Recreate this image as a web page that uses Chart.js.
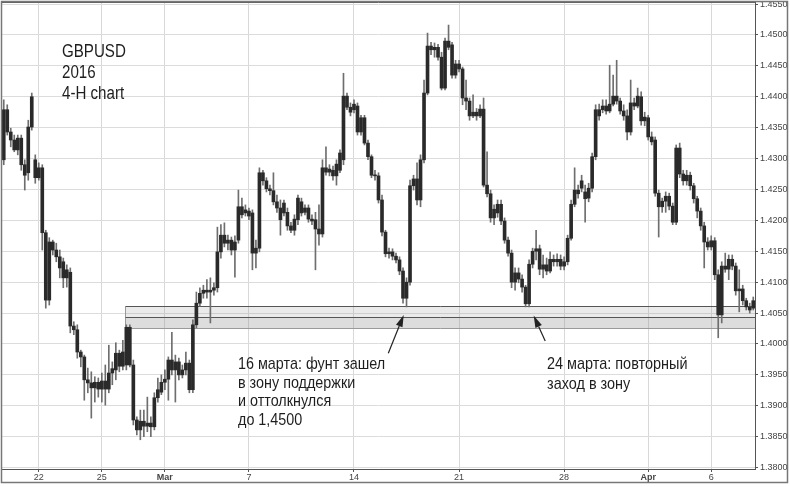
<!DOCTYPE html>
<html>
<head>
<meta charset="utf-8">
<script src="https://cdn.jsdelivr.net/npm/chart.js@4.4.1/dist/chart.umd.min.js"></script>
<style>
  html, body { margin: 0; padding: 0; background: #fff; }
  canvas { display: block; }
</style>
</head>
<body>
<canvas id="myChart" width="790" height="487"></canvas>
<script>
// GBPUSD 4-H bars, 18 Feb - 8 Apr 2016
const openP = [
  1.4298, 1.4379, 1.4343, 1.4330, 1.4314, 1.4333, 1.4290, 1.4277, 1.4351, 1.4298,
  1.4269, 1.4285, 1.4180, 1.4071, 1.4165, 1.4152, 1.4141, 1.4133, 1.4107, 1.4116,
  1.4029, 1.4023, 1.3987, 1.3979, 1.3942, 1.3937, 1.3929, 1.3938, 1.3927, 1.3940,
  1.3927, 1.3953, 1.3958, 1.3985, 1.3964, 1.3966, 1.4027, 1.3966, 1.3877, 1.3861,
  1.3875, 1.3867, 1.3872, 1.3866, 1.3913, 1.3922, 1.3938, 1.3943, 1.3974, 1.3958,
  1.3971, 1.3950, 1.3958, 1.3969, 1.3926, 1.4031, 1.4066, 1.4082, 1.4087, 1.4084,
  1.4087, 1.4091, 1.4149, 1.4176, 1.4163, 1.4168, 1.4152, 1.4168, 1.4222, 1.4212,
  1.4215, 1.4212, 1.4147, 1.4155, 1.4277, 1.4264, 1.4251, 1.4248, 1.4230, 1.4220,
  1.4212, 1.4213, 1.4191, 1.4184, 1.4201, 1.4230, 1.4213, 1.4220, 1.4202, 1.4201,
  1.4186, 1.4178, 1.4285, 1.4278, 1.4281, 1.4272, 1.4281, 1.4298, 1.4401, 1.4383,
  1.4379, 1.4385, 1.4343, 1.4366, 1.4325, 1.4303, 1.4273, 1.4272, 1.4233, 1.4181,
  1.4146, 1.4149, 1.4142, 1.4136, 1.4118, 1.4074, 1.4100, 1.4256, 1.4267, 1.4233,
  1.4298, 1.4406, 1.4482, 1.4476, 1.4480, 1.4464, 1.4414, 1.4490, 1.4484, 1.4435,
  1.4453, 1.4445, 1.4398, 1.4393, 1.4369, 1.4375, 1.4369, 1.4380, 1.4257, 1.4243,
  1.4204, 1.4212, 1.4226, 1.4199, 1.4168, 1.4147, 1.4100, 1.4115, 1.4105, 1.4092,
  1.4065, 1.4129, 1.4150, 1.4154, 1.4121, 1.4128, 1.4118, 1.4137, 1.4133, 1.4137,
  1.4126, 1.4133, 1.4171, 1.4226, 1.4249, 1.4252, 1.4246, 1.4236, 1.4252, 1.4303,
  1.4379, 1.4379, 1.4385, 1.4377, 1.4388, 1.4401, 1.4393, 1.4377, 1.4369, 1.4343,
  1.4390, 1.4385, 1.4400, 1.4361, 1.4366, 1.4335, 1.4330, 1.4244, 1.4222, 1.4231,
  1.4239, 1.4223, 1.4197, 1.4317, 1.4275, 1.4264, 1.4273, 1.4256, 1.4235, 1.4215,
  1.4191, 1.4165, 1.4157, 1.4167, 1.4112, 1.4047, 1.4126, 1.4121, 1.4137, 1.4126,
  1.4086, 1.4089, 1.4070, 1.4060, 1.4058
];
const highP = [
  1.4395, 1.4387, 1.4349, 1.4338, 1.4338, 1.4338, 1.4298, 1.4362, 1.4406, 1.4306,
  1.4293, 1.4290, 1.4184, 1.4172, 1.4168, 1.4163, 1.4152, 1.4139, 1.4128, 1.4123,
  1.4036, 1.4031, 1.3990, 1.3982, 1.3961, 1.3955, 1.3947, 1.3945, 1.3953, 1.3966,
  1.3998, 1.3971, 1.4002, 1.3990, 1.4006, 1.4031, 1.4031, 1.3974, 1.3882, 1.3893,
  1.3893, 1.3914, 1.3882, 1.3921, 1.3945, 1.3950, 1.3958, 1.3979, 1.4019, 1.3982,
  1.3977, 1.3966, 1.3987, 1.3974, 1.4039, 1.4084, 1.4091, 1.4095, 1.4104, 1.4107,
  1.4099, 1.4189, 1.4193, 1.4196, 1.4176, 1.4173, 1.4175, 1.4249, 1.4236, 1.4225,
  1.4220, 1.4217, 1.4168, 1.4285, 1.4281, 1.4269, 1.4257, 1.4277, 1.4241, 1.4233,
  1.4233, 1.4220, 1.4197, 1.4209, 1.4241, 1.4236, 1.4225, 1.4225, 1.4209, 1.4213,
  1.4225, 1.4298, 1.4319, 1.4290, 1.4288, 1.4298, 1.4314, 1.4438, 1.4406, 1.4390,
  1.4395, 1.4390, 1.4370, 1.4370, 1.4330, 1.4306, 1.4281, 1.4277, 1.4241, 1.4184,
  1.4155, 1.4154, 1.4147, 1.4141, 1.4123, 1.4107, 1.4265, 1.4273, 1.4293, 1.4306,
  1.4427, 1.4503, 1.4488, 1.4487, 1.4485, 1.4472, 1.4495, 1.4516, 1.4488, 1.4459,
  1.4459, 1.4448, 1.4427, 1.4398, 1.4403, 1.4381, 1.4387, 1.4398, 1.4311, 1.4249,
  1.4225, 1.4233, 1.4233, 1.4204, 1.4173, 1.4152, 1.4123, 1.4123, 1.4112, 1.4095,
  1.4136, 1.4155, 1.4184, 1.4160, 1.4144, 1.4139, 1.4149, 1.4144, 1.4146, 1.4144,
  1.4141, 1.4176, 1.4233, 1.4285, 1.4257, 1.4273, 1.4257, 1.4260, 1.4309, 1.4387,
  1.4388, 1.4395, 1.4395, 1.4451, 1.4435, 1.4459, 1.4398, 1.4387, 1.4379, 1.4427,
  1.4398, 1.4414, 1.4408, 1.4375, 1.4370, 1.4343, 1.4335, 1.4249, 1.4236, 1.4246,
  1.4244, 1.4228, 1.4322, 1.4325, 1.4281, 1.4281, 1.4278, 1.4260, 1.4239, 1.4220,
  1.4197, 1.4172, 1.4175, 1.4172, 1.4120, 1.4133, 1.4147, 1.4144, 1.4144, 1.4131,
  1.4120, 1.4095, 1.4074, 1.4066, 1.4076
];
const lowP = [
  1.4290, 1.4338, 1.4319, 1.4311, 1.4306, 1.4281, 1.4249, 1.4265, 1.4346, 1.4260,
  1.4265, 1.4152, 1.4058, 1.4063, 1.4144, 1.4133, 1.4107, 1.4091, 1.4092, 1.4018,
  1.4015, 1.3977, 1.3963, 1.3909, 1.3921, 1.3880, 1.3906, 1.3914, 1.3906, 1.3901,
  1.3921, 1.3934, 1.3942, 1.3955, 1.3958, 1.3958, 1.3963, 1.3869, 1.3853, 1.3845,
  1.3850, 1.3858, 1.3850, 1.3861, 1.3906, 1.3918, 1.3926, 1.3909, 1.3950, 1.3906,
  1.3942, 1.3945, 1.3950, 1.3921, 1.3921, 1.4026, 1.4061, 1.4074, 1.4074, 1.4034,
  1.4079, 1.4084, 1.4139, 1.4157, 1.4152, 1.4144, 1.4108, 1.4163, 1.4204, 1.4207,
  1.4201, 1.4120, 1.4123, 1.4149, 1.4257, 1.4246, 1.4241, 1.4225, 1.4213, 1.4176,
  1.4207, 1.4184, 1.4180, 1.4176, 1.4193, 1.4207, 1.4209, 1.4197, 1.4193, 1.4120,
  1.4160, 1.4173, 1.4273, 1.4272, 1.4265, 1.4257, 1.4277, 1.4290, 1.4379, 1.4369,
  1.4374, 1.4338, 1.4338, 1.4322, 1.4298, 1.4269, 1.4265, 1.4228, 1.4175, 1.4141,
  1.4139, 1.4136, 1.4131, 1.4112, 1.4066, 1.4060, 1.4095, 1.4249, 1.4225, 1.4222,
  1.4293, 1.4403, 1.4468, 1.4464, 1.4459, 1.4411, 1.4411, 1.4476, 1.4430, 1.4430,
  1.4440, 1.4387, 1.4379, 1.4362, 1.4366, 1.4362, 1.4366, 1.4254, 1.4238, 1.4197,
  1.4193, 1.4205, 1.4193, 1.4163, 1.4142, 1.4091, 1.4087, 1.4099, 1.4084, 1.4060,
  1.4060, 1.4123, 1.4136, 1.4112, 1.4107, 1.4112, 1.4115, 1.4126, 1.4126, 1.4120,
  1.4120, 1.4128, 1.4168, 1.4222, 1.4236, 1.4246, 1.4197, 1.4230, 1.4246, 1.4298,
  1.4362, 1.4374, 1.4372, 1.4374, 1.4385, 1.4388, 1.4372, 1.4362, 1.4330, 1.4338,
  1.4379, 1.4382, 1.4354, 1.4353, 1.4330, 1.4322, 1.4239, 1.4173, 1.4213, 1.4213,
  1.4217, 1.4193, 1.4193, 1.4269, 1.4257, 1.4257, 1.4249, 1.4228, 1.4204, 1.4184,
  1.4123, 1.4152, 1.4152, 1.4104, 1.4010, 1.4034, 1.4116, 1.4104, 1.4120, 1.4079,
  1.4052, 1.4063, 1.4055, 1.4050, 1.4055
];
const closeP = [
  1.4379, 1.4343, 1.4330, 1.4314, 1.4333, 1.4290, 1.4273, 1.4351, 1.4400, 1.4269,
  1.4285, 1.4180, 1.4071, 1.4165, 1.4152, 1.4141, 1.4123, 1.4107, 1.4120, 1.4029,
  1.4023, 1.3987, 1.3979, 1.3942, 1.3937, 1.3929, 1.3938, 1.3927, 1.3940, 1.3927,
  1.3953, 1.3960, 1.3985, 1.3964, 1.3987, 1.4027, 1.3966, 1.3877, 1.3861, 1.3875,
  1.3867, 1.3872, 1.3866, 1.3913, 1.3926, 1.3938, 1.3943, 1.3974, 1.3958, 1.3971,
  1.3950, 1.3958, 1.3969, 1.3926, 1.4031, 1.4066, 1.4082, 1.4087, 1.4084, 1.4087,
  1.4091, 1.4149, 1.4176, 1.4163, 1.4168, 1.4152, 1.4165, 1.4222, 1.4209, 1.4217,
  1.4207, 1.4147, 1.4155, 1.4277, 1.4264, 1.4251, 1.4248, 1.4230, 1.4220, 1.4201,
  1.4228, 1.4191, 1.4184, 1.4202, 1.4236, 1.4212, 1.4220, 1.4202, 1.4199, 1.4186,
  1.4178, 1.4285, 1.4278, 1.4283, 1.4272, 1.4291, 1.4309, 1.4401, 1.4383, 1.4375,
  1.4388, 1.4343, 1.4366, 1.4325, 1.4303, 1.4273, 1.4272, 1.4233, 1.4181, 1.4146,
  1.4149, 1.4142, 1.4136, 1.4118, 1.4074, 1.4100, 1.4256, 1.4267, 1.4233, 1.4298,
  1.4406, 1.4482, 1.4476, 1.4480, 1.4464, 1.4414, 1.4490, 1.4480, 1.4435, 1.4453,
  1.4445, 1.4398, 1.4393, 1.4369, 1.4375, 1.4369, 1.4380, 1.4257, 1.4243, 1.4204,
  1.4218, 1.4226, 1.4199, 1.4168, 1.4147, 1.4100, 1.4115, 1.4105, 1.4092, 1.4065,
  1.4129, 1.4150, 1.4154, 1.4121, 1.4128, 1.4118, 1.4137, 1.4133, 1.4137, 1.4126,
  1.4133, 1.4171, 1.4226, 1.4249, 1.4243, 1.4264, 1.4235, 1.4252, 1.4303, 1.4379,
  1.4369, 1.4385, 1.4377, 1.4388, 1.4401, 1.4393, 1.4377, 1.4369, 1.4343, 1.4390,
  1.4385, 1.4401, 1.4361, 1.4367, 1.4335, 1.4327, 1.4244, 1.4222, 1.4231, 1.4239,
  1.4223, 1.4197, 1.4317, 1.4275, 1.4264, 1.4273, 1.4256, 1.4235, 1.4215, 1.4191,
  1.4165, 1.4157, 1.4167, 1.4112, 1.4047, 1.4126, 1.4121, 1.4137, 1.4126, 1.4086,
  1.4089, 1.4070, 1.4060, 1.4055, 1.4070
];

// date labels under the x axis: bar index -> text
const tickIndex = [10, 28, 46, 70, 100, 130, 160, 184, 202];
const tickText  = ['22', '25', 'Mar', '7', '14', '21', '28', 'Apr', '6'];
const boldTicks = ['Mar', 'Apr'];

// support zone
const zoneStart = 34.6;
const zoneTop = 1.4061;
const zoneMid = 1.4044;
const zoneBottom = 1.4026;

// arrows: [tail index, tail price, tip index, tip price]
const arrows = [
  [109.8, 1.3985, 114.2, 1.4047],
  [154.6, 1.4005, 151.3, 1.4046]
];

const titleLines = ['GBPUSD', '2016', '4-H chart'];
const note1 = ['16 марта: фунт зашел', 'в зону поддержки', 'и оттолкнулся', 'до 1,4500'];
const note2 = ['24 марта: повторный', 'заход в зону'];

const labels = openP.map((v, i) => i);
const wicks = labels.map(i => [lowP[i], highP[i]]);
const bodies = labels.map(i => [Math.min(openP[i], closeP[i]), Math.max(openP[i], closeP[i])]);

const FONT = '"Liberation Sans", Arial, sans-serif';

// narrow text: Arial squeezed like Arial Narrow
function narrowText(ctx, lines, x, y, step, size, squeeze) {
  ctx.save();
  ctx.font = size + 'px ' + FONT;
  ctx.translate(x, y);
  ctx.scale(squeeze, 1);
  lines.forEach((t, i) => ctx.fillText(t, 0, i * step));
  ctx.restore();
}

const overlay = {
  id: 'overlay',
  beforeDatasetsDraw(chart) {
    const {ctx, chartArea: a, scales: {x, y}} = chart;
    const x0 = Math.round(x.getPixelForValue(zoneStart)) + 0.5;
    const yT = Math.round(y.getPixelForValue(zoneTop)) + 0.5;
    const yM = Math.round(y.getPixelForValue(zoneMid)) + 0.5;
    const yB = Math.round(y.getPixelForValue(zoneBottom)) + 0.5;
    ctx.save();
    ctx.fillStyle = 'rgba(160,160,160,0.22)';
    ctx.fillRect(x0, yT, a.right - x0, yM - yT);
    ctx.fillStyle = 'rgba(150,150,150,0.32)';
    ctx.fillRect(x0, yM, a.right - x0, yB - yM);
    ctx.lineWidth = 1;
    ctx.strokeStyle = '#9a9a9a';
    ctx.beginPath();
    ctx.moveTo(x0, yT); ctx.lineTo(x0, yB);
    ctx.moveTo(x0, yB); ctx.lineTo(a.right, yB);
    ctx.stroke();
    ctx.strokeStyle = '#555';
    ctx.beginPath();
    ctx.moveTo(x0, yT); ctx.lineTo(a.right, yT);
    ctx.moveTo(x0, yM); ctx.lineTo(a.right, yM);
    ctx.stroke();
    ctx.restore();
  },
  afterDraw(chart) {
    const {ctx, chartArea: a, scales: {x, y}} = chart;
    ctx.save();
    // frames
    ctx.strokeStyle = '#777';
    ctx.lineWidth = 1.5;
    ctx.strokeRect(1.5, 1.5, 786, 481);
    ctx.lineWidth = 1;
    ctx.strokeStyle = '#666';
    ctx.beginPath();
    ctx.moveTo(a.left, 2.5); ctx.lineTo(a.right, 2.5);
    ctx.stroke();

    // arrows
    ctx.strokeStyle = '#222';
    ctx.fillStyle = '#222';
    ctx.lineWidth = 1.2;
    arrows.forEach(([ti, tp, hi, hp]) => {
      const x1 = x.getPixelForValue(ti), y1 = y.getPixelForValue(tp);
      const x2 = x.getPixelForValue(hi), y2 = y.getPixelForValue(hp);
      const ang = Math.atan2(y2 - y1, x2 - x1);
      const len = 12, w = 3.5;
      const bx = x2 - len * Math.cos(ang), by = y2 - len * Math.sin(ang);
      ctx.beginPath();
      ctx.moveTo(x1, y1); ctx.lineTo(bx, by);
      ctx.stroke();
      ctx.beginPath();
      ctx.moveTo(x2, y2);
      ctx.lineTo(bx + w * Math.sin(ang), by - w * Math.cos(ang));
      ctx.lineTo(bx - w * Math.sin(ang), by + w * Math.cos(ang));
      ctx.closePath();
      ctx.fill();
    });

    // texts
    ctx.fillStyle = '#1e1e1e';
    ctx.textBaseline = 'alphabetic';
    ctx.textAlign = 'left';
    narrowText(ctx, titleLines, 62, 57, 21, 18, 0.84);
    narrowText(ctx, note1, 238, 369, 18.5, 17, 0.845);
    narrowText(ctx, note2, 547, 369, 19.5, 17, 0.85);
    ctx.restore();
  }
};

new Chart(document.getElementById('myChart').getContext('2d'), {
  type: 'bar',
  data: {
    labels: labels,
    datasets: [
      {
        label: 'range',
        data: wicks,
        backgroundColor: '#6e6e6e',
        barThickness: 1,
        grouped: false,
        order: 2
      },
      {
        label: 'body',
        data: bodies,
        backgroundColor: '#2a2a2a',
        barThickness: 3,
        minBarLength: 1,
        grouped: false,
        order: 1
      }
    ]
  },
  options: {
    responsive: false,
    animation: false,
    layout: { padding: { left: 2, top: 2, right: 0, bottom: 0 } },
    plugins: { legend: { display: false }, tooltip: { enabled: false } },
    scales: {
      x: {
        grid: {
          offset: false,
          color: c => tickIndex.includes(c.index) ? '#d8d8d8' : 'rgba(0,0,0,0)',
          tickColor: c => tickIndex.includes(c.index) ? '#555' : 'rgba(0,0,0,0)',
          tickLength: 3
        },
        border: { color: '#555', width: 1 },
        ticks: {
          autoSkip: false,
          maxRotation: 0,
          minRotation: 0,
          padding: 0,
          color: '#444',
          font: c => {
            const k = tickIndex.indexOf(c.index);
            return { family: 'Arial, "Liberation Sans", sans-serif', size: 9,
                     weight: (k >= 0 && boldTicks.includes(tickText[k])) ? 'bold' : 'normal' };
          },
          callback: (v, i) => {
            const k = tickIndex.indexOf(i);
            return k >= 0 ? tickText[k] : '';
          }
        },
        afterFit: s => { s.height = 18; s.paddingLeft = 0; s.paddingRight = 0; }
      },
      y: {
        position: 'right',
        min: 1.37977,
        max: 1.45533,
        grid: { color: '#dcdcdc', tickColor: '#555', tickLength: 3 },
        border: { color: '#555', width: 1 },
        ticks: {
          stepSize: 0.005,
          includeBounds: false,
          padding: 2,
          color: '#444',
          font: { family: 'Arial, "Liberation Sans", sans-serif', size: 9 },
          callback: v => v.toFixed(4)
        },
        afterFit: s => { s.width = 35; s.paddingTop = 0; s.paddingBottom = 0; }
      }
    }
  },
  plugins: [overlay]
});
</script>
</body>
</html>
